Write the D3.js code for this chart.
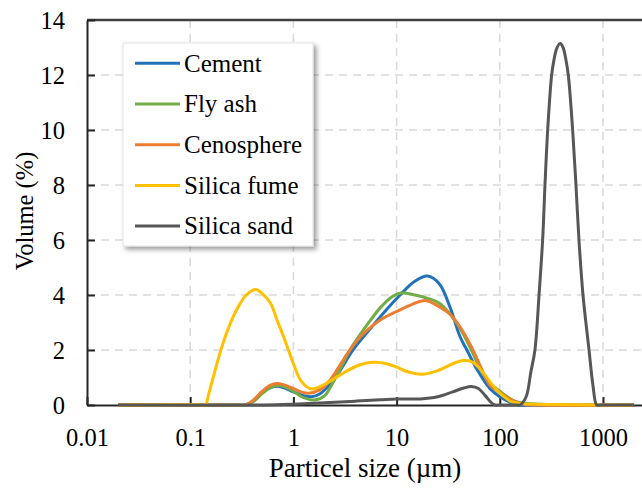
<!DOCTYPE html>
<html>
  <head>
    <meta charset="utf-8" />
    <style>
      body { margin: 0; background: #fff; }
      svg text { font-family: 'Liberation Serif', 'Times New Roman', serif; fill: #000; }
    </style>
  </head>
  <body>

<svg id="chart"></svg>

<script src="https://cdn.jsdelivr.net/npm/d3@7"></script>
<script>
  const WIDTH = 642;
  const HEIGHT = 488;

  // legend names, one per series
  const seriesNames = ['Cement', 'Fly ash', 'Cenosphere', 'Silica fume', 'Silica sand'];
  const seriesColors = ['#2272B8', '#70AD47', '#ED7D31', '#FFC000', '#575757'];

  // particle size (um) and volume (%)
  const cementSize = [0.02, 0.2, 0.29, 0.34, 0.4, 0.5, 0.6, 0.69, 0.8, 1, 1.2, 1.5, 1.8, 2.26, 2.83, 3.78, 5.5, 7.7, 10.8, 15, 20, 26, 33, 41, 48, 60, 80, 100, 130, 160, 200, 2000];
  const cementVol  = [0, 0, 0, 0, 0.12, 0.45, 0.63, 0.68, 0.63, 0.48, 0.36, 0.3, 0.4, 0.75, 1.25, 2.0, 2.75, 3.4, 4.0, 4.5, 4.69, 4.4, 3.55, 2.5, 2.0, 1.3, 0.6, 0.3, 0.08, 0, 0, 0];

  const flyAshSize = [0.02, 0.2, 0.29, 0.34, 0.4, 0.5, 0.6, 0.7, 0.8, 1, 1.2, 1.6, 2, 2.26, 2.83, 3.53, 4.5, 5.5, 7, 8.9, 11, 15, 20, 26, 33, 41, 53, 65, 80, 100, 130, 160, 250, 400, 2000];
  const flyAshVol  = [0, 0, 0, 0, 0.1, 0.42, 0.64, 0.71, 0.68, 0.5, 0.3, 0.18, 0.33, 0.62, 1.3, 2.0, 2.6, 3.05, 3.55, 3.92, 4.07, 4.0, 3.88, 3.7, 3.3, 2.8, 2.0, 1.3, 0.8, 0.5, 0.2, 0.08, 0.03, 0, 0];

  const cenoSize = [0.02, 0.2, 0.29, 0.34, 0.4, 0.5, 0.6, 0.69, 0.8, 1, 1.2, 1.4, 1.8, 2.26, 2.83, 3.53, 4.5, 5.5, 7, 10, 14, 19, 26, 33, 41, 55, 65, 80, 100, 130, 160, 200, 2000];
  const cenoVol  = [0, 0, 0, 0, 0.15, 0.5, 0.72, 0.78, 0.74, 0.6, 0.47, 0.43, 0.55, 0.9, 1.45, 2.0, 2.5, 2.8, 3.1, 3.4, 3.65, 3.8, 3.57, 3.3, 2.85, 2.0, 1.4, 0.73, 0.45, 0.18, 0.05, 0.01, 0];

  const fumeSize = [0.02, 0.08, 0.12, 0.14, 0.15, 0.16, 0.18, 0.2, 0.25, 0.3, 0.35, 0.43, 0.5, 0.6, 0.7, 0.8, 0.9, 1, 1.2, 1.5, 2, 3, 4, 5, 6.5, 8, 10, 13, 18, 25, 35, 45, 55, 70, 85, 100, 130, 160, 300, 1000, 2000];
  const fumeVol  = [0, 0, 0, 0, 0.35, 0.75, 1.45, 2.05, 3.05, 3.65, 4.0, 4.2, 4.05, 3.7, 3.05, 2.5, 1.97, 1.5, 0.85, 0.58, 0.75, 1.15, 1.4, 1.52, 1.55, 1.5, 1.38, 1.2, 1.12, 1.25, 1.5, 1.63, 1.55, 1.15, 0.72, 0.43, 0.12, 0.05, 0.02, 0, 0];

  const sandSize = [0.02, 0.5, 1, 2, 4, 7, 10, 17, 25, 35, 45, 53, 62, 72, 82, 90, 100, 145, 157, 180, 200, 219, 240, 260, 274, 291, 318, 335, 355, 383, 410, 435, 461, 508, 547, 585, 640, 732, 800, 869, 950, 1100, 2000];
  const sandVol  = [0, 0, 0.03, 0.08, 0.14, 0.19, 0.22, 0.22, 0.3, 0.48, 0.62, 0.67, 0.6, 0.35, 0.1, 0, 0, 0, 0, 0.3, 1.2, 2, 4, 6, 8, 10, 12, 12.55, 12.95, 13.15, 13.0, 12.6, 12, 10, 8, 6, 4, 2, 0.7, 0, 0, 0, 0];

  const xTicks = [0.01, 0.1, 1, 10, 100, 1000];
  const xTickLabels = ['0.01', '0.1', '1', '10', '100', '1000'];
  const yTicks = [0, 2, 4, 6, 8, 10, 12, 14];

  const seriesData = [
    [cementSize, cementVol],
    [flyAshSize, flyAshVol],
    [cenoSize, cenoVol],
    [fumeSize, fumeVol],
    [sandSize, sandVol],
  ].map(([s, v]) => s.map((d, i) => ({ size: d, vol: v[i] })));

  const LEFT = 87, TOP = 20, BOTTOM = 405, DECADE = 103.2;

  const svg = d3.select('#chart').attr('width', WIDTH).attr('height', HEIGHT);

  const x = d3.scaleLog().domain([0.01, 10000]).range([LEFT, LEFT + DECADE * 6]);
  const y = d3.scaleLinear().domain([0, 14]).range([BOTTOM, TOP]);

  const defs = svg.append('defs');
  defs.append('filter').attr('id', 'shadow')
    .attr('x', '-10%').attr('y', '-10%').attr('width', '130%').attr('height', '130%')
    .append('feDropShadow')
    .attr('dx', 3).attr('dy', 3).attr('stdDeviation', 2.5)
    .attr('flood-color', '#000').attr('flood-opacity', 0.4);

  // grid
  svg.append('g').selectAll('line')
    .data(yTicks.filter(d => d > 0 && d < 14))
    .enter().append('line')
    .attr('x1', LEFT).attr('x2', WIDTH)
    .attr('y1', d => y(d)).attr('y2', d => y(d))
    .attr('stroke', '#D9D9D9').attr('stroke-width', 1.5).attr('stroke-dasharray', '8,6');

  svg.append('g').selectAll('line')
    .data(xTicks.slice(1))
    .enter().append('line')
    .attr('x1', d => x(d)).attr('x2', d => x(d))
    .attr('y1', TOP).attr('y2', BOTTOM)
    .attr('stroke', '#D9D9D9').attr('stroke-width', 1.5).attr('stroke-dasharray', '8,6');

  // top frame line
  svg.append('line')
    .attr('x1', LEFT).attr('x2', WIDTH).attr('y1', TOP).attr('y2', TOP)
    .attr('stroke', '#404040').attr('stroke-width', 2.5);

  // axes, ticks pointing inward
  const yAxis = svg.append('g')
    .attr('transform', `translate(${LEFT},0)`)
    .call(d3.axisLeft(y).tickValues(yTicks).tickSizeInner(-8).tickSizeOuter(0).tickPadding(22));

  const xAxis = svg.append('g')
    .attr('transform', `translate(0,${BOTTOM})`)
    .call(d3.axisBottom(x).tickValues(xTicks).tickFormat((d, i) => xTickLabels[i])
      .tickSizeInner(-8).tickSizeOuter(0).tickPadding(24));

  [yAxis, xAxis].forEach(g => {
    g.select('.domain').attr('stroke', '#262626').attr('stroke-width', 2);
    g.selectAll('.tick line').attr('stroke', '#262626').attr('stroke-width', 2);
    g.selectAll('.tick text')
      .attr('font-family', "'Liberation Serif', 'Times New Roman', serif")
      .attr('font-size', 24.5).attr('fill', '#000');
  });
  yAxis.selectAll('.tick text').attr('dy', '0.33em');

  // series, smoothed like a spreadsheet line
  const line = d3.line()
    .x(d => x(d.size))
    .y(d => y(d.vol))
    .curve(d3.curveCatmullRom.alpha(0.5));

  svg.append('g').selectAll('path')
    .data(seriesData)
    .enter().append('path')
    .attr('d', line)
    .attr('fill', 'none')
    .attr('stroke', (d, i) => seriesColors[i])
    .attr('stroke-width', 3)
    .attr('stroke-linejoin', 'round');

  // axis titles
  svg.append('text')
    .attr('x', 365).attr('y', 477)
    .attr('text-anchor', 'middle')
    .attr('font-size', 27)
    .text('Particel size (\u00b5m)');

  svg.append('text')
    .attr('transform', 'translate(33,211) rotate(-90)')
    .attr('text-anchor', 'middle')
    .attr('font-size', 24.5)
    .text('Volume (%)');

  // legend
  const legend = svg.append('g');
  legend.append('rect')
    .attr('x', 123).attr('y', 43).attr('width', 190).attr('height', 203)
    .attr('fill', '#fff').attr('stroke', '#E3E3E3').attr('stroke-width', 1)
    .attr('filter', 'url(#shadow)');

  const rows = legend.selectAll('g.row')
    .data(seriesNames)
    .enter().append('g')
    .attr('class', 'row')
    .attr('transform', (d, i) => `translate(0,${63.3 + i * 40.7})`);

  rows.append('line')
    .attr('x1', 135).attr('x2', 180)
    .attr('stroke', (d, i) => seriesColors[i])
    .attr('stroke-width', 3);

  rows.append('text')
    .attr('x', 184).attr('y', 8.3)
    .attr('font-size', 25)
    .text(d => d);
</script>
  </body>
</html>
